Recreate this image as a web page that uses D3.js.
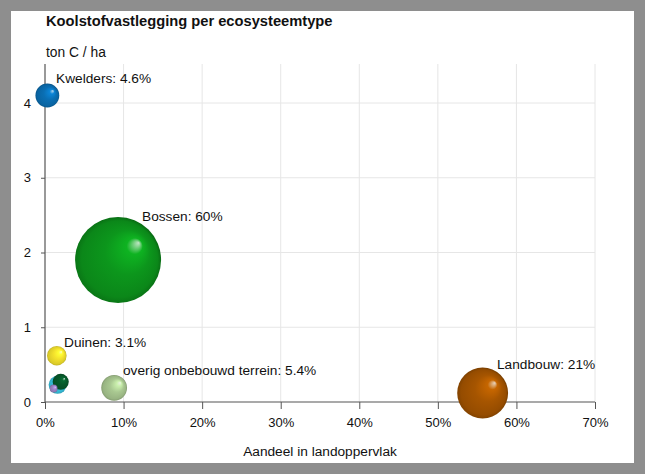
<!DOCTYPE html>
<html>
<head>
<meta charset="utf-8">
<script src="https://cdn.jsdelivr.net/npm/d3@7"></script>
<style>
  html, body { margin: 0; padding: 0; background: #8e8e8e; }
  svg { display: block; font-family: "Liberation Sans", Arial, sans-serif; }
</style>
</head>
<body>
<svg id="chart" width="645" height="474"></svg>
<script>
// ecosystem types: share of land area (%), carbon per ha, share of total storage (%)
var names   = ['Kwelders', 'Bossen', 'Duinen', 'overig1', 'overig2', 'overig3', 'overig onbebouwd terrein', 'Landbouw'];
var landPct = [0.3, 9.3, 1.5, 1.6, 2.0, 1.1, 8.8, 55.7];
var carbon  = [4.1, 1.9, 0.62, 0.23, 0.27, 0.18, 0.19, 0.12];
var share   = [4.6, 60, 3.1, 2.6, 2.1, 0.5, 5.4, 21];
var colors  = ['#0a6fb4', '#0c961c', '#f4e22c', '#38c6e4', '#06592a', '#9b84c4', '#a9c891', '#a65500'];
var labels  = ['Kwelders: 4.6%', 'Bossen: 60%', 'Duinen: 3.1%', '', '', '', 'overig onbebouwd terrein: 5.4%', 'Landbouw: 21%'];
var xTicks  = [0, 10, 20, 30, 40, 50, 60, 70];
var yTicks  = [0, 1, 2, 3, 4];

var data = names.map(function(n, i) {
  return {name: n, x: landPct[i], y: carbon[i], s: share[i], color: colors[i], label: labels[i]};
});

var svg = d3.select('#chart');
svg.append('rect').attr('x', 11).attr('y', 11).attr('width', 623).attr('height', 452).attr('fill', '#fff');

var x = d3.scaleLinear().domain([0, 70]).range([45, 595]);
var y = d3.scaleLinear().domain([0, 4]).range([402, 103]);
var r = d3.scaleSqrt().domain([0, 60]).range([0, 43]);

// grid
svg.append('g').selectAll('line').data(xTicks.slice(1)).enter().append('line')
  .attr('x1', function(d) { return x(d); }).attr('x2', function(d) { return x(d); })
  .attr('y1', 64).attr('y2', 402)
  .attr('stroke', '#e6e6e6');
svg.append('g').selectAll('line').data(yTicks.slice(1)).enter().append('line')
  .attr('x1', 45).attr('x2', 595)
  .attr('y1', function(d) { return y(d); }).attr('y2', function(d) { return y(d); })
  .attr('stroke', '#e6e6e6');

// axes
var xAxis = svg.append('g').attr('transform', 'translate(0,402)')
  .call(d3.axisBottom(x).tickValues(xTicks).tickSize(7).tickPadding(9).tickFormat(function(d) { return d + '%'; }));
var yAxis = svg.append('g').attr('transform', 'translate(45,0)')
  .call(d3.axisLeft(y).tickValues(yTicks).tickSize(4).tickPadding(10).tickFormat(d3.format('d')));
[xAxis, yAxis].forEach(function(a) {
  a.select('.domain').remove();
  a.selectAll('line').attr('stroke', '#555');
  a.selectAll('text').attr('fill', '#111').style('font-size', '13px').style('font-family', '"Liberation Sans", Arial, sans-serif');
});
svg.append('line').attr('x1', 45).attr('x2', 595).attr('y1', 402).attr('y2', 402).attr('stroke', '#555').attr('stroke-width', 1.2);
svg.append('line').attr('x1', 45).attr('x2', 45).attr('y1', 64).attr('y2', 402).attr('stroke', '#555').attr('stroke-width', 1.2);

// titles
svg.append('text').attr('x', 46).attr('y', 26).text('Koolstofvastlegging per ecosysteemtype')
  .style('font-size', '14.7px').style('font-weight', 'bold').attr('fill', '#111');
svg.append('text').attr('x', 46).attr('y', 57).text('ton C / ha').style('font-size', '13.8px').attr('fill', '#111');
svg.append('text').attr('x', 320).attr('y', 456).attr('text-anchor', 'middle').text('Aandeel in landoppervlak')
  .style('font-size', '13.7px').attr('fill', '#111');

// bubble gradients
var defs = svg.append('defs');
data.forEach(function(d, i) {
  var c = d3.color(d.color);
  var g = defs.append('radialGradient').attr('id', 'g' + i)
    .attr('cx', '48%').attr('cy', '52%').attr('r', '52%')
    .attr('fx', '74%').attr('fy', '30%');
  g.append('stop').attr('offset', '0%').attr('stop-color', d3.interpolateRgb(c, '#fff')(0.75));
  g.append('stop').attr('offset', '18%').attr('stop-color', c.brighter(0.5).formatHex());
  g.append('stop').attr('offset', '50%').attr('stop-color', c.formatHex());
  g.append('stop').attr('offset', '85%').attr('stop-color', c.darker(0.3).formatHex());
  g.append('stop').attr('offset', '100%').attr('stop-color', c.darker(0.9).formatHex());
});

// draw small bubbles on top of big ones
var order = data.map(function(d, i) { return i; }).sort(function(a, b) { return data[b].s - data[a].s; });
svg.append('g').selectAll('circle').data(order).enter().append('circle')
  .attr('cx', function(i) { return x(data[i].x); })
  .attr('cy', function(i) { return y(data[i].y); })
  .attr('r', function(i) { return r(data[i].s); })
  .attr('fill', function(i) { return 'url(#g' + i + ')'; });

// labels
var labelPos = {0: [56, 83], 1: [142, 221], 2: [64, 347], 6: [123, 375], 7: [497, 369]};
svg.append('g').selectAll('text').data(data.filter(function(d) { return d.label; })).enter().append('text')
  .attr('x', function(d) { return labelPos[data.indexOf(d)][0]; })
  .attr('y', function(d) { return labelPos[data.indexOf(d)][1]; })
  .text(function(d) { return d.label; })
  .style('font-size', '13.7px').attr('fill', '#111');
</script>
</body>
</html>
